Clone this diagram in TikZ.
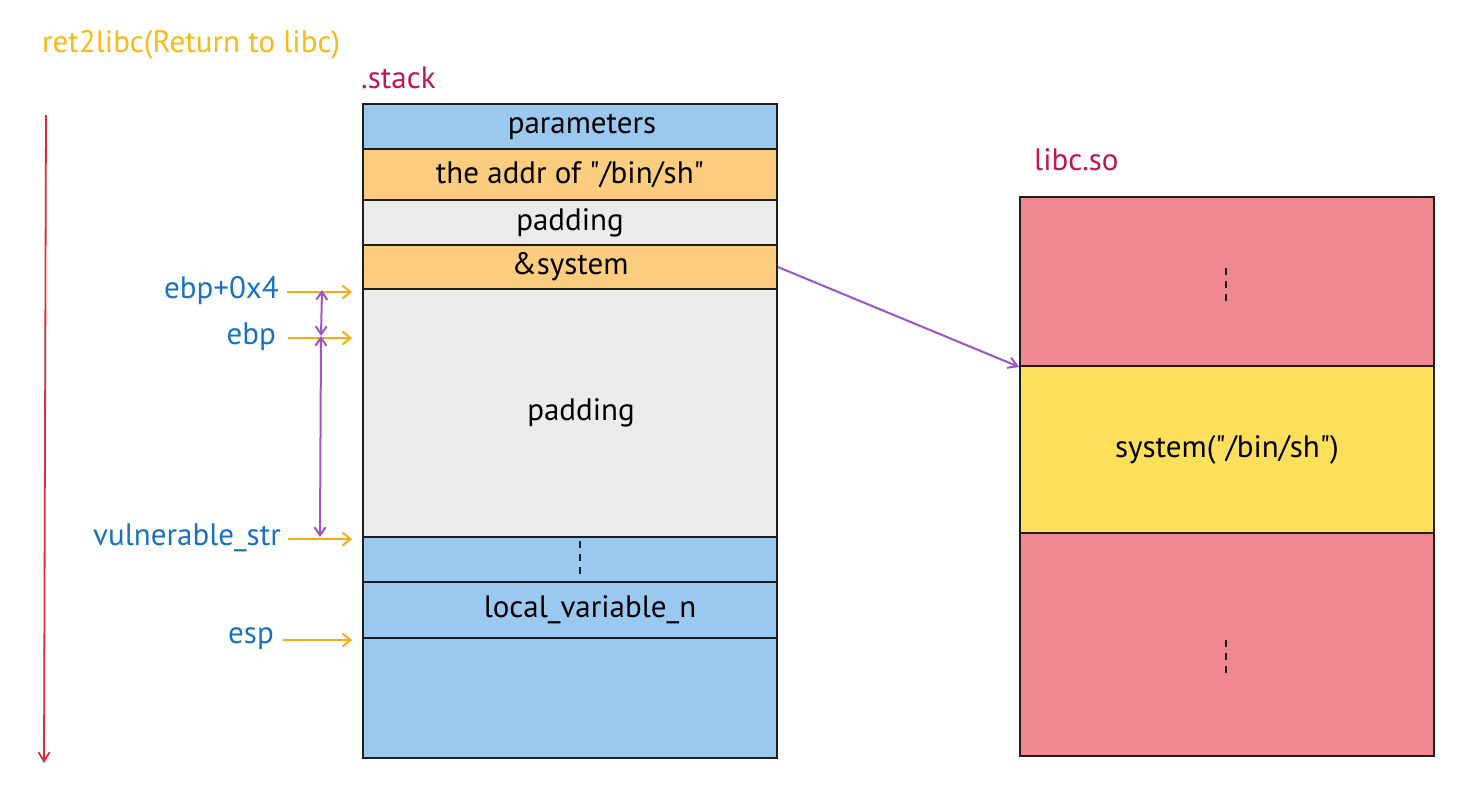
\documentclass[tikz,border=0pt]{standalone}
\usepackage{fontspec}
\setmainfont{PT Sans}[Ligatures=TeXOff]
\usetikzlibrary{arrows.meta}

\definecolor{stackblue}{RGB}{155,200,238}
\definecolor{addrorange}{RGB}{252,205,126}
\definecolor{padgrey}{RGB}{235,235,235}
\definecolor{libpink}{RGB}{240,137,143}
\definecolor{sysyellow}{RGB}{252,223,90}
\definecolor{titleorange}{RGB}{250,185,20}
\definecolor{ptrorange}{RGB}{250,170,20}
\definecolor{secred}{RGB}{194,20,90}
\definecolor{regblue}{RGB}{25,113,194}
\definecolor{linkviolet}{RGB}{155,85,200}
\definecolor{timered}{RGB}{226,40,60}
\definecolor{edge}{RGB}{30,30,30}

\begin{document}
\begin{tikzpicture}[x=1pt,y=-1pt,
    cell/.style={draw=edge,line width=1.8pt,minimum width=414pt,inner sep=0pt,
        font=\fontsize{31}{36}\selectfont},
    reg/.style={text=regblue,inner sep=0pt,font=\fontsize{31}{36}\selectfont},
    ptr/.style={ptrorange,line width=2pt,-{Straight Barb[length=8pt,width=13pt]}},
    span/.style={linkviolet,line width=2pt,{Straight Barb[length=8pt,width=11pt]}-{Straight Barb[length=8pt,width=11pt]}},
    vdots/.style={edge,line width=1.8pt,dash pattern=on 7pt off 6pt}]
    \useasboundingbox (0,0) rectangle (1467,796);

    % Titles
    \node[anchor=west,text=titleorange,inner sep=0pt,font=\fontsize{31}{36}\selectfont] (title) at (42,45) {ret2libc(Return to libc)};
    \node[anchor=west,text=secred,inner sep=0pt,font=\fontsize{31}{36}\selectfont] (stacklbl) at (361,78) {.stack};
    \node[anchor=west,text=secred,inner sep=0pt,font=\fontsize{31}{36}\selectfont] (libclbl) at (1034,160) {libc.so};

    % Growth direction
    \coordinate (t0) at (46,115);
    \coordinate (t1) at (44,763);
    \draw[timered,line width=1.8pt,-{Straight Barb[length=9pt,width=11pt]}] (t0) -- (t1);

    % Stack frame
    \node[cell,fill=stackblue,minimum height=45pt] (params) at (570,126.5) {\hspace{24pt}parameters};
    \node[cell,fill=addrorange,minimum height=51pt] (binsh) at (570,174.5) {the addr of "/bin/sh"};
    \node[cell,fill=padgrey,minimum height=45pt] (padtop) at (570,222.5) {padding};
    \node[cell,fill=addrorange,minimum height=44pt] (sysaddr) at (570,267) {\&system};
    \node[cell,fill=padgrey,minimum height=248pt] (padbuf) at (570,413) {\hspace{22pt}padding};
    \node[cell,fill=stackblue,minimum height=45pt] (gap) at (570,559.5) {};
    \node[cell,fill=stackblue,minimum height=56pt] (locvar) at (570,610) {\hspace{40pt}local\_variable\_n};
    \node[cell,fill=stackblue,minimum height=120pt] (bottom) at (570,698) {};
    \draw[vdots] (580,541) -- (580,577);

    % libc.so
    \node[cell,fill=libpink,minimum height=169pt] (libtop) at (1227,281.5) {};
    \node[cell,fill=sysyellow,minimum height=167pt] (libsys) at (1227,449.5) {system("/bin/sh")};
    \node[cell,fill=libpink,minimum height=223pt] (libbot) at (1227,644.5) {};
    \draw[vdots] (1226,268) -- (1226,302);
    \draw[vdots] (1226,640) -- (1226,674);

    % Registers
    \node[reg,anchor=east] (ebpfour) at (279,291) {ebp+0x4};
    \node[reg,anchor=east] (ebp) at (276,337) {ebp};
    \node[reg,anchor=east] (vulstr) at (281,538) {vulnerable\_str};
    \node[reg,anchor=east] (esp) at (274,639) {esp};
    \draw[ptr] ([xshift=8pt,yshift=-1pt]ebpfour.east) -- ([xshift=-10pt,yshift=-1pt]ebpfour.east -| sysaddr.west);
    \draw[ptr] ([xshift=12pt,yshift=-1pt]ebp.east) -- ([xshift=-10pt,yshift=-1pt]ebp.east -| padbuf.west);
    \draw[ptr] ([xshift=7pt,yshift=-1pt]vulstr.east) -- ([xshift=-10pt,yshift=-1pt]vulstr.east -| padbuf.west);
    \draw[ptr] ([xshift=9pt,yshift=-1pt]esp.east) -- ([xshift=-10pt,yshift=-1pt]esp.east -| bottom.west);

    % Offsets
    \coordinate (s0) at (322,290);
    \coordinate (s1) at (321,336);
    \coordinate (s2) at (320,537);
    \draw[span] (s0) -- (s1);
    \draw[span] (s1) -- (s2);

    % Return address into libc
    \draw[linkviolet,line width=2pt,-{Straight Barb[length=9pt,width=11pt]}] (sysaddr.east) -- (libtop.south west);

\end{tikzpicture}
\end{document}
